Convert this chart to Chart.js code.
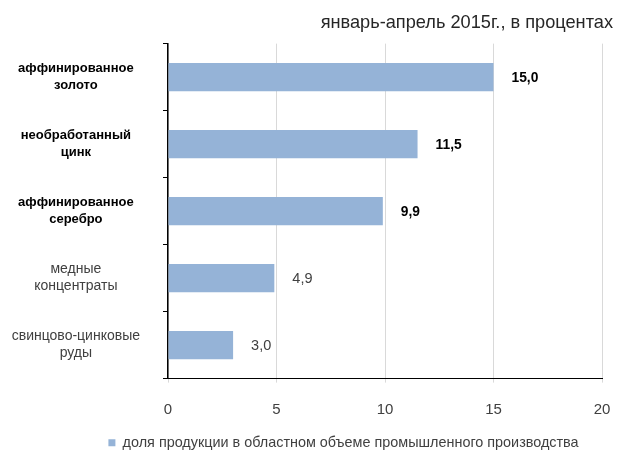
<!DOCTYPE html>
<html><head><meta charset="utf-8">
<script src="https://cdn.jsdelivr.net/npm/chart.js@4.4.0/dist/chart.umd.min.js"></script>
<style>html,body{margin:0;padding:0;background:#fff}#wrap{width:622px;height:450px}</style>
</head><body><div id="wrap"><canvas id="c" width="622" height="450"></canvas></div>
<script>
const categories = [
  ["аффинированное", "золото"],
  ["необработанный", "цинк"],
  ["аффинированное", "серебро"],
  ["медные", "концентраты"],
  ["свинцово-цинковые", "руды"]
];
const values = [15.0, 11.5, 9.9, 4.9, 3.0];
const emphasized = [true, true, true, false, false];
const xTickMin = 0;
const xTickMax = 20;
const xTickStep = 5;
const seriesLabel = "доля продукции в областном объеме промышленного производства";
const titleText = "январь-апрель 2015г., в процентах";

const FAMILY = "'Liberation Sans', Arial, sans-serif";
const fontFor = (i, boldSize, normalSize) => emphasized[i]
  ? {family: FAMILY, size: boldSize, weight: 'bold', lineHeight: '17px'}
  : {family: FAMILY, size: normalSize, weight: 'normal', lineHeight: '17px'};
const colorFor = i => emphasized[i] ? '#000000' : '#404040';

const valueLabels = {
  id: 'valueLabels',
  afterDatasetsDraw(chart) {
    const meta = chart.getDatasetMeta(0);
    const ctx = chart.ctx;
    ctx.save();
    ctx.textAlign = 'left';
    ctx.textBaseline = 'middle';
    meta.data.forEach((bar, i) => {
      const f = fontFor(i, 13.8, 14.5);
      ctx.font = f.weight + ' ' + f.size + 'px ' + FAMILY;
      ctx.fillStyle = colorFor(i);
      ctx.fillText(values[i].toFixed(1).replace('.', ','), bar.x + 18, bar.y + 1);
    });
    ctx.restore();
  }
};

const LEGEND_CENTER_X = 343.5;
const legendShift = {
  id: 'legendShift',
  afterLayout(chart) {
    const l = chart.legend;
    if (!l) return;
    const w = l.right - l.left;
    l.left = LEGEND_CENTER_X - w / 2;
    l.right = LEGEND_CENTER_X + w / 2;
  }
};

new Chart(document.getElementById('c'), {
  type: 'bar',
  data: {
    labels: categories,
    datasets: [{
      label: seriesLabel,
      data: values,
      backgroundColor: '#95b3d7',
      borderWidth: 0,
      barPercentage: 0.42,
      categoryPercentage: 1
    }]
  },
  options: {
    indexAxis: 'y',
    responsive: false,
    animation: false,
    devicePixelRatio: 1,
    layout: {padding: {left: 0, right: 9, top: 0, bottom: -10}},
    scales: {
      x: {
        min: xTickMin, max: xTickMax,
        ticks: {stepSize: xTickStep, font: {family: FAMILY, size: 15}, color: '#404040', padding: 18.4},
        grid: {color: '#d9d9d9', lineWidth: 1, tickLength: 4, drawTicks: true},
        border: {color: '#000000', width: 1},
        afterFit(scale) { scale.paddingRight = 20; scale.height = 38; }
      },
      y: {
        offset: true,
        ticks: {
          crossAlign: 'center',
          padding: 23,
          autoSkip: false,
          font: ctx => fontFor(ctx.index, 13, 14),
          color: ctx => colorFor(ctx.index)
        },
        grid: {offset: true, drawOnChartArea: false, drawTicks: true, tickLength: 5, color: '#000000'},
        border: {color: '#000000', width: 1.5},
        afterFit(scale) { scale.width = 168; }
      }
    },
    plugins: {
      title: {
        display: true,
        text: titleText,
        align: 'end',
        color: '#262626',
        font: {family: FAMILY, size: 18.2, weight: 'normal'},
        padding: {top: 11.8, bottom: 10}
      },
      legend: {
        display: true,
        position: 'bottom',
        align: 'center',
        labels: {
          boxWidth: 7, boxHeight: 7,
          color: '#404040',
          font: {family: FAMILY, size: 14.4},
          padding: 19
        }
      },
      tooltip: {enabled: false}
    }
  },
  plugins: [valueLabels, legendShift]
});
</script>
</body></html>
